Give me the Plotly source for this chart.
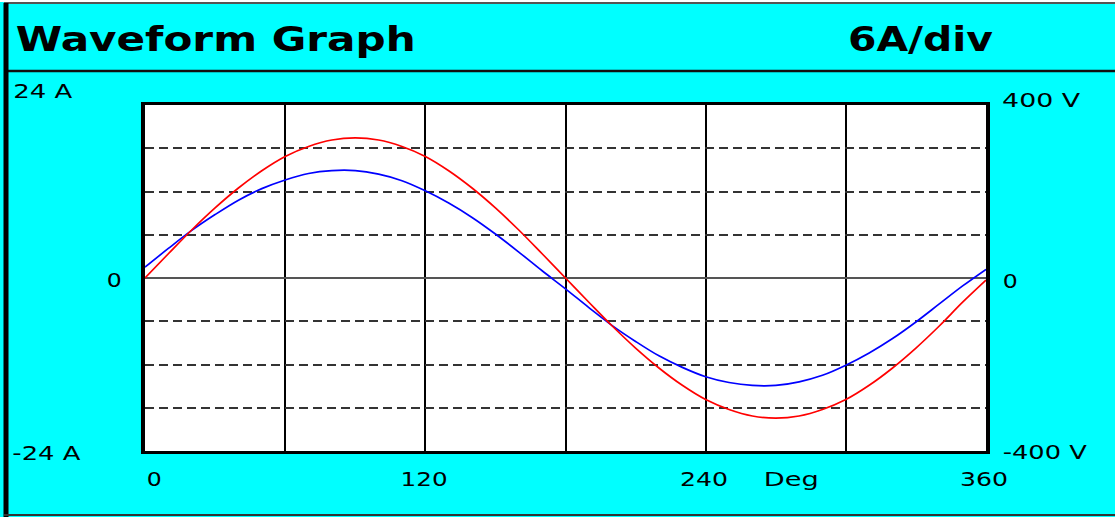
import json
import plotly.graph_objects as go

# ---------------- data ----------------
deg = list(range(0, 361, 10))
voltage_v = [0, 56, 111, 162, 208, 248, 281, 304, 319, 324, 319, 304, 281, 248, 208, 162, 111, 56,
             0, -56, -111, -162, -208, -248, -281, -304, -319, -324, -319, -304, -281, -248, -208,
             -162, -111, -56, -5]
current_a = [1.5, 4.1, 6.6, 8.8, 10.8, 12.4, 13.6, 14.5, 14.9, 14.9, 14.4, 13.5, 12.1, 10.4, 8.4,
             6.1, 3.6, 1.0, -1.5, -4.1, -6.6, -8.8, -10.8, -12.4, -13.7, -14.5, -14.9, -14.9,
             -14.4, -13.5, -12.1, -10.4, -8.4, -6.1, -3.6, -1.1, 1.2]

x_tick_text = ["0", "120", "240", "360"]
left_labels = ["24 A", "0", "-24 A"]
right_labels = ["400 V", "0", "-400 V"]
title_text = "Waveform Graph"
scale_text = "6A/div"
axis_name = "Deg"
current_range = [-24, 24]
voltage_range = [-400, 400]
grid_deg = [0, 60, 120, 180, 240, 300, 360]
grid_amp = [-18, -12, -6, 6, 12, 18]

# ---------------- layout geometry (pixels) ----------------
FW, FH = 1115, 517
L, R, T, B = 145, 986, 105, 451
PW, PH = R - L, B - T


def px(x):
    return (x - L) / PW


def py(y):
    return (B - y) / PH


CYAN = "#00FFFF"
FONT = "DejaVu Sans"

fig = go.Figure()
fig.add_trace(go.Scatter(x=deg, y=current_a, mode="lines", name="Current",
                         line=dict(color="#0000FF", width=1.7, shape="spline"),
                         hoverinfo="skip"))
fig.add_trace(go.Scatter(x=deg, y=voltage_v, mode="lines", name="Voltage", yaxis="y2",
                         line=dict(color="#FF0000", width=1.7, shape="spline"),
                         hoverinfo="skip"))

# label placement: (text, centre x px, centre y px, target width px)
big = [(title_text, 215, 40, 400), (scale_text, 920.5, 40, 145)]
small = [
    (left_labels[0], 42.5, 91, 59),
    (left_labels[1], 114, 280, 14),
    (left_labels[2], 46, 453, 68),
    (right_labels[0], 1041, 100, 78),
    (right_labels[1], 1010, 281, 14),
    (right_labels[2], 1045, 452, 84),
    (x_tick_text[0], 154.5, 479, 15),
    (x_tick_text[1], 423.5, 479, 47),
    (x_tick_text[2], 704, 479, 48),
    (axis_name, 790.5, 479, 55),
    (x_tick_text[3], 984, 479, 48),
]

annotations = []
widths = {}
for txt, cx, cy, w in big:
    annotations.append(dict(text=txt, x=px(cx), y=py(cy), xref="paper", yref="paper",
                            xanchor="center", yanchor="middle", align="center",
                            showarrow=False,
                            font=dict(family=FONT, size=33, color="black", weight="bold")))
    widths[txt] = w
for txt, cx, cy, w in small:
    annotations.append(dict(text=txt, x=px(cx), y=py(cy), xref="paper", yref="paper",
                            xanchor="center", yanchor="middle", align="center",
                            showarrow=False,
                            font=dict(family=FONT, size=20, color="black")))
    widths[txt] = w

shapes = [
    dict(type="rect", xref="paper", yref="paper", x0=px(0), x1=px(FW), y0=py(0), y1=py(2),
         fillcolor="white", line=dict(width=0), layer="above"),
    dict(type="line", xref="paper", yref="paper", x0=px(4), x1=px(FW), y0=py(3), y1=py(3),
         line=dict(color="#555555", width=2)),
    dict(type="line", xref="paper", yref="paper", x0=px(8), x1=px(FW), y0=py(71), y1=py(71),
         line=dict(color="#111111", width=2.5)),
    dict(type="line", xref="paper", yref="paper", x0=px(6), x1=px(6), y0=py(3), y1=py(FH),
         line=dict(color="black", width=5)),
    dict(type="line", xref="paper", yref="paper", x0=px(4), x1=px(FW), y0=py(515), y1=py(515),
         line=dict(color="#333333", width=2)),
]

fig.update_layout(
    width=FW, height=FH,
    margin=dict(l=L, r=FW - R, t=T, b=FH - B, pad=0),
    paper_bgcolor=CYAN, plot_bgcolor="white",
    showlegend=False,
    font=dict(family=FONT, size=20, color="black"),
    annotations=annotations,
    shapes=shapes,
    xaxis=dict(range=[0, 360], tickvals=grid_deg, showticklabels=False, ticks="",
               showgrid=True, gridcolor="black", gridwidth=2, zeroline=False,
               showline=True, linecolor="black", linewidth=3, mirror=True, fixedrange=True),
    yaxis=dict(range=current_range, tickvals=grid_amp, showticklabels=False, ticks="",
               showgrid=True, gridcolor="#333333", gridwidth=2, griddash="9px,5px",
               zeroline=True, zerolinecolor="#555555", zerolinewidth=2,
               showline=True, linecolor="black", linewidth=4, mirror=True, fixedrange=True),
    yaxis2=dict(range=voltage_range, overlaying="y", side="right", showticklabels=False,
                ticks="", showgrid=False, zeroline=False, showline=False, fixedrange=True),
)

# remove default page margin and stretch text horizontally like the original bitmap font
post_js = """
(function(){
  document.documentElement.style.margin='0';
  document.body.style.margin='0';
  document.body.style.overflow='hidden';
  var targets = __WIDTHS__;
  function stretch(){
    var gd = document.getElementById('{plot_id}');
    if(!gd) return;
    gd.querySelectorAll('text.annotation-text').forEach(function(t){
      var w = targets[t.textContent];
      if(w){ t.setAttribute('textLength', w); t.setAttribute('lengthAdjust', 'spacingAndGlyphs'); }
    });
  }
  stretch();
  setTimeout(stretch, 0);
  setTimeout(stretch, 200);
  var g = document.getElementById('{plot_id}');
  if(g && g.on){ g.on('plotly_afterplot', stretch); }
})();
""".replace("__WIDTHS__", json.dumps(widths))

fig.write_html("out.html", config={"displayModeBar": False}, post_script=post_js)
